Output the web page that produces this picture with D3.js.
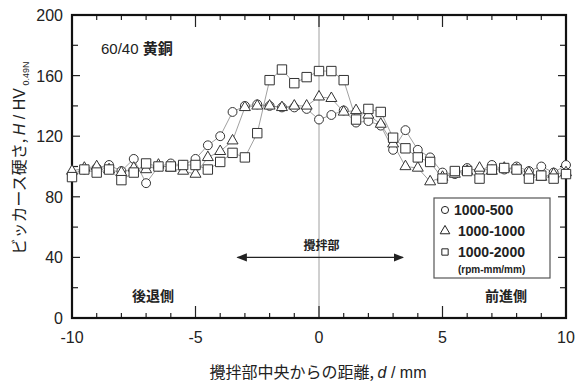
<!DOCTYPE html>
<html>
<head>
<meta charset="utf-8">
<script src="https://cdn.jsdelivr.net/npm/d3@7"></script>
<style>
  body { margin: 0; background: #fff; }
  svg { display: block; }
  text { font-family: 'Liberation Sans', Arial, sans-serif; fill: #222; }
</style>
</head>
<body>
<div id="chart"></div>
<script>
// Hardness profiles across the stir zone (60/40 brass)
var distance = d3.range(-10, 10.01, 0.5)
var seriesNames = ['1000-500', '1000-1000', '1000-2000']
var symbols = ['circle', 'triangle', 'square']

var hv500 = [95, 98, 99, 101, 97, 105, 89, 100, 102, 101, 105, 114, 120, 136, 140, 141, 140, 139, 139, 138, 131, 134, 137, 129, 130, 127, 111, 124, 111, 106, 96, 95, 99, 97, 101, 98, 100, 97, 100, 96, 101]
var hv1000 = [97, 99, 100, 98, 96, 99, 98, 101, 99, 97, 95, 106, 110, 117, 139, 140, 140, 139, 140, 140, 146, 145, 136, 137, 134, 128, 115, 100, 99, 90, 93, 95, 97, 99, 97, 99, 98, 96, 93, 95, 96]
var hv2000 = [93, 98, 96, 98, 91, 96, 102, 100, 100, 101, 101, 98, 103, 109, 106, 122, 157, 164, 155, 159, 163, 163, 157, 131, 138, 136, 119, 112, 106, 103, 92, 97, 97, 92, 98, 99, 98, 92, 94, 92, 95]

var xTicks = [-10, -5, 0, 5, 10]
var yTicks = [0, 40, 80, 120, 160, 200]

var width = 579
var height = 387
var margin = { left: 72, right: 13, top: 15, bottom: 69 }
var jp = "'Noto Sans CJK JP', sans-serif"

var svg = d3.select('#chart').append('svg')
  .attr('width', width)
  .attr('height', height)

var x = d3.scaleLinear().domain([-10, 10]).range([margin.left, width - margin.right])
var y = d3.scaleLinear().domain([0, 200]).range([height - margin.bottom, margin.top])

// centre line
svg.append('line')
  .attr('x1', x(0)).attr('x2', x(0))
  .attr('y1', y(200)).attr('y2', y(0))
  .attr('stroke', '#888').attr('stroke-width', 0.8)

// ticks on all four sides (minor + major)
var g = svg.append('g').attr('stroke', '#222')
d3.range(-10, 10.01, 1).forEach(function (v) {
  var len = (v % 5 === 0) ? 12 : 5
  g.append('line').attr('x1', x(v)).attr('x2', x(v)).attr('y1', y(0)).attr('y2', y(0) - len).attr('stroke-width', 1.2)
  g.append('line').attr('x1', x(v)).attr('x2', x(v)).attr('y1', y(200)).attr('y2', y(200) + len).attr('stroke-width', 1.2)
})
d3.range(0, 200.01, 20).forEach(function (v) {
  var len = (v % 40 === 0) ? 8 : 6
  g.append('line').attr('x1', x(-10)).attr('x2', x(-10) + len).attr('y1', y(v)).attr('y2', y(v)).attr('stroke-width', 1.2)
  g.append('line').attr('x1', x(10)).attr('x2', x(10) - len).attr('y1', y(v)).attr('y2', y(v)).attr('stroke-width', 1.2)
})

// frame
svg.append('rect')
  .attr('x', x(-10)).attr('y', y(200))
  .attr('width', x(10) - x(-10)).attr('height', y(0) - y(200))
  .attr('fill', 'none').attr('stroke', '#111').attr('stroke-width', 2.2)

// tick labels
svg.selectAll('.xt').data(xTicks).join('text')
  .attr('x', d => x(d)).attr('y', y(0) + 25)
  .attr('text-anchor', 'middle').attr('font-size', 16)
  .text(d => d)
svg.selectAll('.yt').data(yTicks).join('text')
  .attr('x', x(-10) - 9).attr('y', d => y(d) + 6)
  .attr('text-anchor', 'end').attr('font-size', 16)
  .text(d => d)

// series
var data = [hv500, hv1000, hv2000]
var sym = {
  circle: d3.symbol().type(d3.symbolCircle).size(62),
  triangle: d3.symbol().type(d3.symbolTriangle).size(52),
  square: d3.symbol().type(d3.symbolSquare).size(88)
}
var line = d3.line().x((d, i) => x(distance[i])).y(d => y(d))
data.forEach(function (vals) {
  svg.append('path').attr('d', line(vals))
    .attr('fill', 'none').attr('stroke', '#888').attr('stroke-width', 0.8)
})
data.forEach(function (vals, k) {
  svg.append('g').selectAll('path').data(vals).join('path')
    .attr('transform', (d, i) => 'translate(' + x(distance[i]) + ',' + y(d) + ')')
    .attr('d', sym[symbols[k]]())
    .attr('fill', 'white').attr('stroke', '#333').attr('stroke-width', 1)
})

// annotations
var title = svg.append('text').attr('x', 101).attr('y', 54).attr('font-size', 15)
title.append('tspan').text('60/40 ')
title.append('tspan').style('font-family', jp).attr('font-weight', 'bold').text('黄銅')

var defs = svg.append('defs')
defs.append('marker').attr('id', 'ah').attr('viewBox', '0 0 10 10')
  .attr('refX', 9).attr('refY', 5).attr('markerWidth', 8).attr('markerHeight', 8)
  .attr('orient', 'auto-start-reverse')
  .append('path').attr('d', 'M0,1 L10,5 L0,9 Z').attr('fill', '#222')
svg.append('line')
  .attr('x1', x(-3.3)).attr('x2', x(3.4)).attr('y1', y(40)).attr('y2', y(40))
  .attr('stroke', '#222').attr('stroke-width', 1.3)
  .attr('marker-start', 'url(#ah)').attr('marker-end', 'url(#ah)')
svg.append('text').attr('x', x(0.1)).attr('y', y(40) - 7).attr('text-anchor', 'middle')
  .attr('font-size', 12).attr('font-weight', 'bold').style('font-family', jp)
  .text('攪拌部')
svg.append('text').attr('x', 153).attr('y', 301).attr('text-anchor', 'middle')
  .attr('font-size', 14).attr('font-weight', 'bold').style('font-family', jp)
  .text('後退側')
svg.append('text').attr('x', 506).attr('y', 301).attr('text-anchor', 'middle')
  .attr('font-size', 14).attr('font-weight', 'bold').style('font-family', jp)
  .text('前進側')

// legend
var lg = svg.append('g').attr('transform', 'translate(434,198)')
lg.append('rect').attr('width', 116).attr('height', 80)
  .attr('fill', 'white').attr('stroke', '#555').attr('stroke-width', 1.2)
seriesNames.forEach(function (name, k) {
  var row = lg.append('g').attr('transform', 'translate(0,' + (12 + k * 21) + ')')
  row.append('path').attr('transform', 'translate(11,0)')
    .attr('d', d3.symbol().type([d3.symbolCircle, d3.symbolTriangle, d3.symbolSquare][k]).size(40)())
    .attr('fill', 'white').attr('stroke', '#222').attr('stroke-width', 1)
  row.append('text').attr('x', k === 0 ? 20 : 24).attr('y', 5)
    .attr('font-size', 14).attr('font-weight', 'bold').text(name)
})
lg.append('text').attr('x', 24).attr('y', 75).attr('font-size', 10).attr('font-weight', 'bold')
  .text('(rpm-mm/mm)')

// axis titles
var yt = svg.append('text')
  .attr('transform', 'translate(25,' + 158 + ') rotate(-90)')
  .attr('text-anchor', 'middle').attr('font-size', 16)
yt.append('tspan').style('font-family', jp).text('ビッカース硬さ, ')
yt.append('tspan').attr('font-style', 'italic').text('H')
yt.append('tspan').text(' / HV')
yt.append('tspan').attr('font-size', 9).attr('dy', 4).text(' 0.49N')

var xt = svg.append('text')
  .attr('x', 318).attr('y', 378)
  .attr('text-anchor', 'middle').attr('font-size', 16)
xt.append('tspan').style('font-family', jp).text('攪拌部中央からの距離, ')
xt.append('tspan').attr('font-style', 'italic').text('d')
xt.append('tspan').text(' / mm')
</script>
</body>
</html>
